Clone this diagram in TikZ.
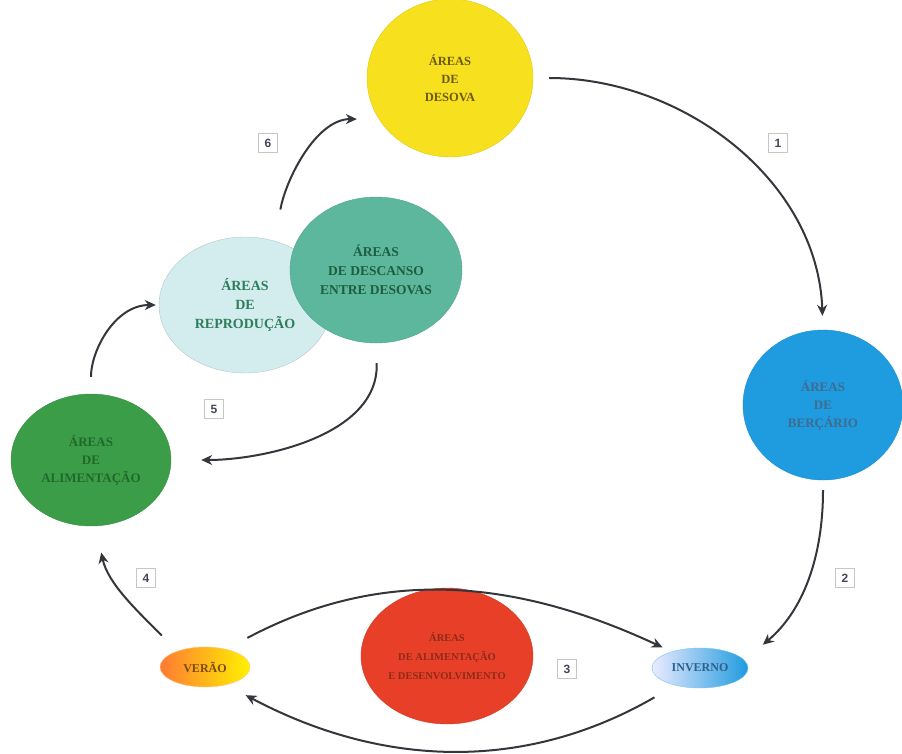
\documentclass[tikz,border=0pt]{standalone}
\usepackage{fontspec}
\setmainfont{Liberation Serif}
\setsansfont{Liberation Sans}
\usetikzlibrary{shapes.geometric,arrows.meta}
\definecolor{cyellow}{HTML}{F7E01E}
\definecolor{cblue}{HTML}{1F9BDF}
\definecolor{cgreen}{HTML}{3C9D48}
\definecolor{clight}{HTML}{D3ECEE}
\definecolor{cteal}{HTML}{5DB79C}
\definecolor{cred}{HTML}{E84028}
\definecolor{carrow}{HTML}{33363B}
\definecolor{tyellow}{HTML}{6B5A10}
\definecolor{tblue}{HTML}{3F6C8F}
\definecolor{tgreen}{HTML}{1F6A2A}
\definecolor{trepro}{HTML}{2E7D5B}
\definecolor{tteal}{HTML}{1E5E40}
\definecolor{tred}{HTML}{8E2A1A}
\definecolor{tverao}{HTML}{7A4A10}
\definecolor{tinverno}{HTML}{2E5F8F}
\definecolor{tnum}{HTML}{404858}
\tikzset{
  area/.style={ellipse, inner sep=0pt, align=center, font=\bfseries\fontsize{12.5}{18}\selectfont},
  season/.style={ellipse, inner sep=0pt, align=center, font=\bfseries\fontsize{12}{12}\selectfont},
  numbox/.style={draw=gray!45, fill=white, minimum size=19pt, inner sep=0pt, font=\sffamily\bfseries\fontsize{12}{12}\selectfont, text=tnum},
  flow/.style={draw=carrow, line width=2pt, -{Stealth[length=11pt,width=10pt]}}
}
\begin{document}
\begin{tikzpicture}[x=1pt,y=-1pt]
\useasboundingbox (0,0) rectangle (902,753);
% areas
\node[area, fill=cyellow, draw=cyellow!90!black, minimum width=166pt, minimum height=158pt, text=tyellow] (desova) at (450,78) {ÁREAS\\DE\\DESOVA};
\node[area, fill=cblue, draw=cblue!90!black, minimum width=160pt, minimum height=150pt, text=tblue, font=\bfseries\fontsize{13}{18}\selectfont] (bercario) at (823,405) {ÁREAS\\DE\\BERÇÁRIO};
\node[area, fill=cgreen, draw=cgreen!90!black, minimum width=160pt, minimum height=132pt, text=tgreen, font=\bfseries\fontsize{13}{18}\selectfont] (alimentacao) at (91,460) {ÁREAS\\DE\\ALIMENTAÇÃO};
\node[area, fill=clight, draw=clight!85!black, minimum width=172pt, minimum height=136pt, text=trepro, font=\bfseries\fontsize{14}{19}\selectfont] (reproducao) at (245,305) {ÁREAS\\DE\\REPRODUÇÃO};
\node[area, fill=cteal, draw=cteal!90!black, minimum width=172pt, minimum height=146pt, text=tteal, font=\bfseries\fontsize{13.5}{19}\selectfont] (descanso) at (376,270) {ÁREAS\\DE DESCANSO\\ENTRE DESOVAS};
\node[area, fill=cred, draw=cred!90!black, minimum width=172pt, minimum height=136pt, text=tred, font=\bfseries\fontsize{10.5}{19}\selectfont] (desenvolvimento) at (447,656) {ÁREAS\\DE ALIMENTAÇÃO\\E DESENVOLVIMENTO};
\node[season, left color=orange!70!red!80, right color=yellow!90!orange, draw=orange!50, minimum width=90pt, minimum height=40pt, text=tverao] (verao) at (205,667) {VERÃO};
\node[season, left color=blue!8, right color=cblue, draw=cblue!60, minimum width=96pt, minimum height=40pt, text=tinverno] (inverno) at (700,668) {INVERNO};
% numbers
\node[numbox] (n1) at (778,143) {1};
\node[numbox] (n2) at (845,578) {2};
\node[numbox] (n3) at (567,669) {3};
\node[numbox] (n4) at (146,578) {4};
\node[numbox] (n5) at (214,409) {5};
\node[numbox] (n6) at (268,143) {6};
% arrows
\draw[flow, shorten <=16pt, shorten >=14pt] (desova.east) to[out=0, in=92] (bercario.north);
\draw[flow, shorten <=10pt, shorten >=24pt] (bercario.south) to[out=-90, in=40] (inverno.10);
\draw[flow, shorten <=24pt, shorten >=10pt] (verao.40) to[out=28, in=155] (inverno.150);
\draw[flow, shorten <=24pt, shorten >=22pt] (inverno.215) to[out=-150, in=-28] (verao.-40);
\draw[flow, shorten <=22pt, shorten >=27pt] (verao.150) to[out=135, in=-78] (alimentacao.-86);
\draw[flow, shorten <=17pt, shorten >=3pt] (alimentacao.north) to[out=90, in=180] (reproducao.west);
\draw[flow, shorten <=20pt, shorten >=30pt] (descanso.south) to[out=-88, in=0] (alimentacao.east);
\draw[flow, shorten <=32pt, shorten >=22pt] (reproducao.65) to[out=80, in=180] (desova.210);
\end{tikzpicture}
\end{document}
